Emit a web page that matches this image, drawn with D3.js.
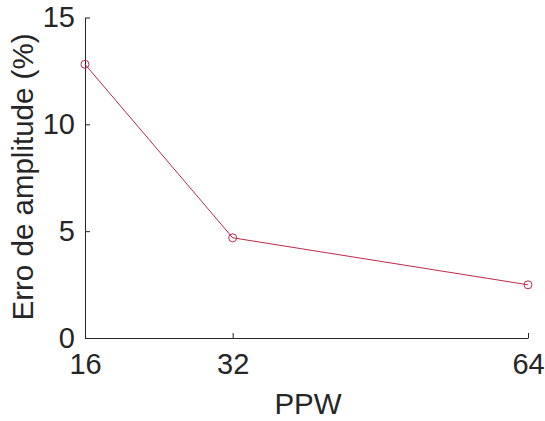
<!DOCTYPE html>
<html>
<head>
<meta charset="utf-8">
<script src="https://cdn.jsdelivr.net/npm/d3@7"></script>
<style>
  html, body { margin: 0; padding: 0; background: #fff; }
  svg { display: block; font-family: "Liberation Sans", Arial, sans-serif; }
</style>
</head>
<body>
<svg id="chart" width="545" height="421"></svg>
<script>
// PPW sampling levels and the amplitude error measured at each
const ppw = [16, 32, 64];
const amplitudeError = [12.81, 4.69, 2.49];
const xTicks = [16, 32, 64];
const yTicks = [0, 5, 10, 15];

const svg = d3.select("#chart");
const margin = { left: 85, right: 17, top: 17.5, bottom: 83 };
const W = 545, H = 421;
const axisColor = "#262626";
const lineColor = "#c0294b";

const x = d3.scaleLinear().domain([16, 64]).range([margin.left, W - margin.right]);
const y = d3.scaleLinear().domain([0, 15]).range([H - margin.bottom, margin.top]);

// Bottom axis, ticks pointing inward
const gx = svg.append("g")
  .attr("transform", `translate(0,${H - margin.bottom})`)
  .call(d3.axisBottom(x).tickValues(xTicks).tickSizeInner(-5).tickSizeOuter(0).tickPadding(15));

// Left axis, ticks pointing inward
const gy = svg.append("g")
  .attr("transform", `translate(${margin.left},0)`)
  .call(d3.axisLeft(y).tickValues(yTicks).tickSizeInner(-5).tickSizeOuter(0).tickPadding(10));

[gx, gy].forEach(g => {
  g.select(".domain").attr("stroke", axisColor).attr("stroke-width", 1);
  g.selectAll(".tick line").attr("stroke", axisColor).attr("stroke-width", 1);
  g.selectAll(".tick text")
    .attr("fill", axisColor)
    .style("font-size", "29px")
    .style("font-family", "\"Liberation Sans\", Arial, sans-serif");
});
gx.selectAll(".tick text").attr("dy", "0.72em");

// Data line with open circle markers
const pts = ppw.map((p, i) => [p, amplitudeError[i]]);

svg.append("path")
  .datum(pts)
  .attr("fill", "none")
  .attr("stroke", lineColor)
  .attr("stroke-width", 1)
  .attr("d", d3.line().x(d => x(d[0])).y(d => y(d[1])));

svg.selectAll("circle.pt")
  .data(pts)
  .join("circle")
  .attr("class", "pt")
  .attr("cx", d => x(d[0]))
  .attr("cy", d => y(d[1]))
  .attr("r", 4)
  .attr("fill", "none")
  .attr("stroke", lineColor)
  .attr("stroke-width", 1);

// Axis titles
svg.append("text")
  .attr("x", 308)
  .attr("y", 414)
  .attr("text-anchor", "middle")
  .attr("fill", axisColor)
  .style("font-size", "29.5px")
  .text("PPW");

svg.append("text")
  .attr("transform", "translate(32.5,177) rotate(-90)")
  .attr("text-anchor", "middle")
  .attr("fill", axisColor)
  .style("font-size", "29.5px")
  .text("Erro de amplitude (%)");
</script>
</body>
</html>
